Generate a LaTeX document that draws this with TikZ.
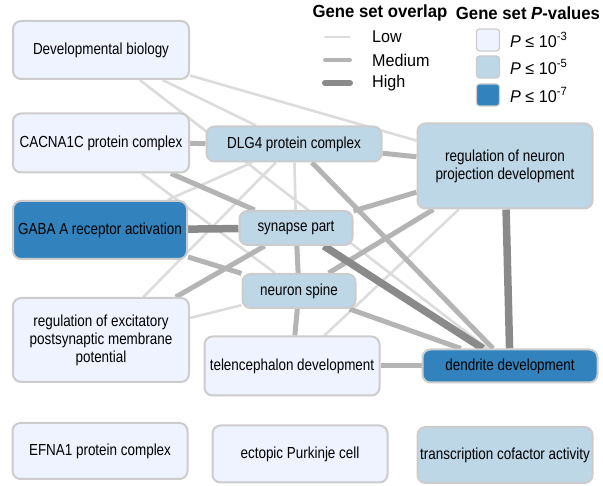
\documentclass[tikz,border=0pt]{standalone}
\usepackage{fontspec}
\setmainfont{Liberation Sans}[FakeStretch=0.84]
\newfontfamily\legfont{Liberation Sans}[FakeStretch=0.95]
\usetikzlibrary{backgrounds}

\definecolor{pLow}{HTML}{EFF3FF}
\definecolor{pMid}{HTML}{BDD7E7}
\definecolor{pHigh}{HTML}{3182BD}
\definecolor{boxline}{HTML}{CCCCCC}
\definecolor{ovLow}{HTML}{DCDCDC}
\definecolor{ovMid}{HTML}{B4B4B4}
\definecolor{ovHigh}{HTML}{8A8A8A}

\tikzset{
  gset/.style={draw=boxline, line width=2pt, rounded corners=8pt, inner sep=0pt,
    align=center, font=\fontsize{16}{18}\selectfont},
  lowset/.style={gset, fill=pLow},
  midset/.style={gset, fill=pMid},
  highset/.style={gset, fill=pHigh},
  lowedge/.style={draw=ovLow, line width=2.6pt},
  midedge/.style={draw=ovMid, line width=5pt},
  highedge/.style={draw=ovHigh, line width=7.5pt},
  legtext/.style={font=\legfont\fontsize{17}{20}\selectfont, inner sep=0pt, anchor=west},
  legtitle/.style={font=\legfont\fontsize{17.6}{20}\selectfont\bfseries, inner sep=0pt},
  legbox/.style={draw=boxline, line width=1.2pt, rounded corners=3pt,
    minimum width=23pt, minimum height=22pt, inner sep=0pt}
}

\begin{document}
\begin{tikzpicture}[x=1pt, y=-1pt]
    \useasboundingbox (0,0) rectangle (603,486);

    % gene sets, left column
    \node[lowset, minimum width=176pt, minimum height=58pt] (devbio) at (101,50) {Developmental biology};
    \node[lowset, minimum width=176pt, minimum height=59pt] (cacna) at (101,143) {CACNA1C protein complex};
    \node[highset, minimum width=174pt, minimum height=58pt] (gaba) at (100,230) {GABA A receptor activation};
    \node[lowset, minimum width=176pt, minimum height=84pt] (excit) at (101,340)
        {regulation of excitatory\\postsynaptic membrane\\potential};
    \node[lowset, minimum width=175pt, minimum height=56pt] (efna) at (100,451) {EFNA1 protein complex};

    % middle column
    \node[midset, minimum width=175pt, minimum height=35pt] (dlg) at (294,144) {DLG4 protein complex};
    \node[midset, minimum width=113pt, minimum height=34pt] (synapse) at (296,228) {synapse part};
    \node[midset, minimum width=113pt, minimum height=34pt] (spine) at (299,291) {neuron spine};
    \node[lowset, minimum width=175pt, minimum height=59pt] (telen) at (292,366) {telencephalon development};
    \node[lowset, minimum width=175pt, minimum height=57pt] (purk) at (300,454) {ectopic Purkinje cell};

    % right column
    \node[midset, minimum width=175pt, minimum height=85pt] (regproj) at (505,166)
        {regulation of neuron\\projection development};
    \node[highset, minimum width=175pt, minimum height=33pt] (dendrite) at (510,366) {dendrite development};
    \node[midset, minimum width=175pt, minimum height=56pt] (transcr) at (505,455) {transcription cofactor activity};

    % overlaps, drawn under the boxes
    \begin{scope}[on background layer]
        \foreach \a/\b in {devbio/regproj, devbio/dlg, devbio/dendrite, cacna/spine,
                gaba/dlg, excit/dlg, excit/spine, dlg/synapse, telen/regproj}
            \draw[lowedge] (\a) -- (\b);
        \foreach \a/\b in {cacna/dlg, cacna/synapse, gaba/spine, excit/synapse,
                dlg/regproj, dlg/dendrite, synapse/regproj, spine/regproj,
                spine/dendrite, telen/dendrite, synapse/spine, spine/telen}
            \draw[midedge] (\a) -- (\b);
        \foreach \a/\b in {gaba/synapse, synapse/dendrite, regproj/dendrite}
            \draw[highedge] (\a) -- (\b);
    \end{scope}

    % legend: overlap
    \node[legtitle] (ovtitle) at (380,13) {Gene set overlap};
    \coordinate (lowA) at (325,37);  \coordinate (lowB) at (350,37);
    \coordinate (midA) at (325,60);  \coordinate (midB) at (350,60);
    \coordinate (highA) at (325,83); \coordinate (highB) at (350,83);
    \draw[draw=ovLow, line width=2pt, line cap=round] (lowA) -- (lowB);
    \draw[draw=ovMid, line width=4pt, line cap=round] (midA) -- (midB);
    \draw[draw=ovHigh, line width=6pt, line cap=round] (highA) -- (highB);
    \node[legtext] (lowlab) at (372,37) {Low};
    \node[legtext] (midlab) at (372,60) {Medium};
    \node[legtext] (highlab) at (372,83) {High};

    % legend: P-values
    \node[legtitle] (ptitle) at (528,13) {Gene set \textit{P}-values};
    \node[legbox, fill=pLow] (plowbox) at (488,40) {};
    \node[legbox, fill=pMid] (pmidbox) at (488,67) {};
    \node[legbox, fill=pHigh] (phighbox) at (488,95) {};
    \node[legtext] (plowlab) at (510,40) {\textit{P} ≤ 10\textsuperscript{-3}};
    \node[legtext] (pmidlab) at (510,67) {\textit{P} ≤ 10\textsuperscript{-5}};
    \node[legtext] (phighlab) at (510,95) {\textit{P} ≤ 10\textsuperscript{-7}};
\end{tikzpicture}
\end{document}
